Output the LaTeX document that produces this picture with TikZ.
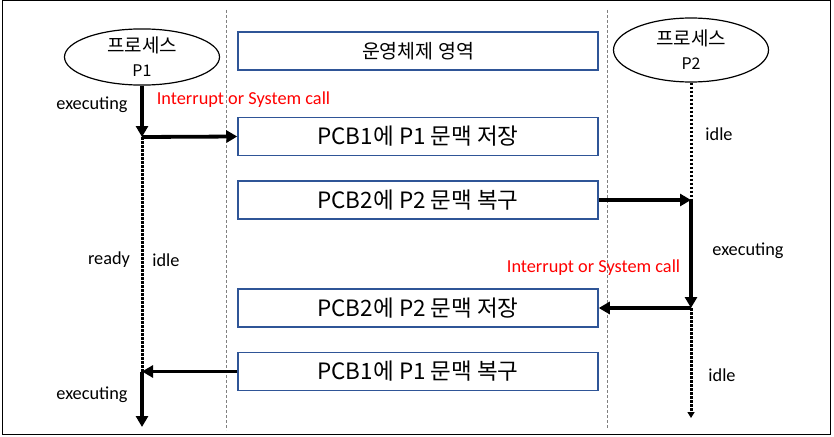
\documentclass[tikz,border=0pt]{standalone}
\usepackage{fontspec}
\setmainfont{Carlito}
\newfontfamily\kr{Noto Sans CJK KR}
\usetikzlibrary{shapes.geometric,arrows.meta}
\definecolor{boxblue}{RGB}{47,85,151}
\definecolor{callred}{RGB}{255,0,0}

\begin{document}
\begin{tikzpicture}[x=1pt,y=-1pt]
\tikzstyle{proc}=[draw, ellipse, line width=1.2pt, minimum width=155pt, align=center, inner sep=0pt, font=\kr\fontsize{19}{24}\selectfont]
\tikzstyle{os}=[draw=boxblue, line width=1.5pt, minimum width=360pt, minimum height=38pt, inner sep=0pt, font=\kr\fontsize{22.5}{26}\selectfont]
\tikzstyle{lbl}=[font=\fontsize{18.3}{20}\selectfont, inner sep=0pt]
\tikzstyle{call}=[lbl, text=callred]
\tikzstyle{run}=[line width=3.8pt, -{Triangle[length=11pt,width=12pt]}]
\tikzstyle{wait}=[line width=3pt, dash pattern=on 2.5pt off 1.5pt]
\tikzstyle{sep}=[gray, line width=0.8pt, dash pattern=on 3pt off 2pt]

\useasboundingbox (0,0) rectangle (834,436);
\draw[line width=1pt] (2,1) rectangle (830,434);

% separators
\coordinate (sepLt) at (226,10);
\coordinate (sepLb) at (226,430);
\coordinate (sepRt) at (607,10);
\coordinate (sepRb) at (607,428);
\draw[sep] (sepLt) -- (sepLb);
\draw[sep] (sepRt) -- (sepRb);

% processes
\draw (142,57) node[proc, minimum height=50pt, text depth=-3pt] (p1) {프로세스\\{\fontsize{16}{24}\selectfont P1}};
\draw (691,50) node[proc, minimum height=64pt] (p2) {프로세스\\{\fontsize{16}{24}\selectfont P2}};

% kernel side
\draw (418,51) node[os, font=\kr\fontsize{19.5}{22}\selectfont] (osarea) {운영체제 영역};
\draw (418,136.5) node[os] (save1) {PCB1에 P1 문맥 저장};
\draw (418,200) node[os] (load2) {PCB2에 P2 문맥 복구};
\draw (418,308) node[os] (save2) {PCB2에 P2 문맥 저장};
\draw (418,371.5) node[os] (load1) {PCB1에 P1 문맥 복구};

% P1 timeline
\coordinate (t1a) at (142,137);
\coordinate (t1b) at (142,371.5);
\coordinate (t1c) at (142,427);
\draw[run] (p1.south) -- (t1a);
\draw[run] (t1a) -- (save1.west);
\draw[wait] (t1a) -- (t1b);
\draw[run] (load1.west) -- (t1b);
\draw[run] (t1b) -- (t1c);

% P2 timeline
\coordinate (t2a) at (691,200);
\coordinate (t2b) at (691,308);
\coordinate (t2c) at (691,418);
\draw[wait] (p2.south) -- (t2a);
\draw[run] (load2.east) -- (t2a);
\draw[run] (t2a) -- (t2b);
\draw[run] (t2b) -- (save2.east);
\draw[wait, -{Triangle[length=6pt,width=7pt]}] (t2b) -- (t2c);

% labels
\draw (92,105) node[lbl] (exec1) {executing};
\draw (243.5,100) node[call] (irq1) {Interrupt or System call};
\draw (109,260) node[lbl] (ready1) {ready};
\draw (166,260) node[lbl] (idle1) {idle};
\draw (92,395) node[lbl] (exec1b) {executing};
\draw (719,134) node[lbl] (idle2) {idle};
\draw (748,251) node[lbl] (exec2) {executing};
\draw (593.5,268) node[call] (irq2) {Interrupt or System call};
\draw (722,375) node[lbl] (idle2b) {idle};
\end{tikzpicture}
\end{document}
